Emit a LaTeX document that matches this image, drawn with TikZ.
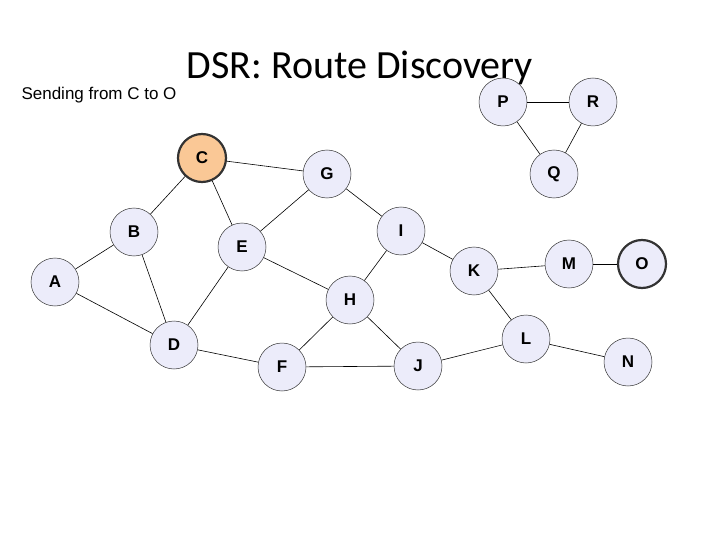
\documentclass[tikz,border=0pt]{standalone}
\usepackage{fontspec}
\setmainfont{Liberation Sans}
\newfontfamily\titlefont{Carlito}
\begin{document}
\begin{tikzpicture}[x=1pt,y=-1pt,
  nd/.style={circle,draw=black!80,line width=0.5pt,fill={rgb,255:red,236;green,236;blue,250},minimum size=48pt,inner sep=0pt,font=\fontsize{17}{17}\selectfont\bfseries},
  ed/.style={draw=black,line width=0.6pt}]
\useasboundingbox (0,0) rectangle (720,540);
\node[font=\titlefont\fontsize{40}{40}\selectfont] (title) at (360,68) {DSR: Route Discovery};
\node[anchor=west,font=\fontsize{17}{17}\selectfont] (sub) at (18,95) {Sending from C to O};
\node[nd,fill={rgb,255:red,250;green,200;blue,150},line width=2.2pt] (C) at (202,158) {C};
\node[nd] (G) at (327,174) {G};
\node[nd] (B) at (134,232) {B};
\node[nd] (E) at (242,247) {E};
\node[nd] (I) at (401,231) {I};
\node[nd] (Q) at (554,174) {Q};
\node[nd] (P) at (503,102) {P};
\node[nd] (R) at (593,102) {R};
\node[nd] (A) at (55,282) {A};
\node[nd] (K) at (474,271) {K};
\node[nd] (M) at (569,264) {M};
\node[nd,line width=2.2pt] (O) at (642,264) {O};
\node[nd] (H) at (350,300) {H};
\node[nd] (D) at (174,345) {D};
\node[nd] (F) at (282,367) {F};
\node[nd] (J) at (418,366) {J};
\node[nd] (L) at (526,339) {L};
\node[nd] (N) at (628,362) {N};
\begin{scope}[on background layer/.try]
\end{scope}
\foreach \a/\b in {C/G,C/B,C/E,G/E,G/I,B/A,B/D,E/D,E/H,I/H,I/K,K/M,M/O,K/L,H/J,J/L,L/N,F/J,F/H,D/F,A/D,P/R,P/Q,R/Q}
  \draw[ed] (\a) -- (\b);
\end{tikzpicture}
\end{document}
